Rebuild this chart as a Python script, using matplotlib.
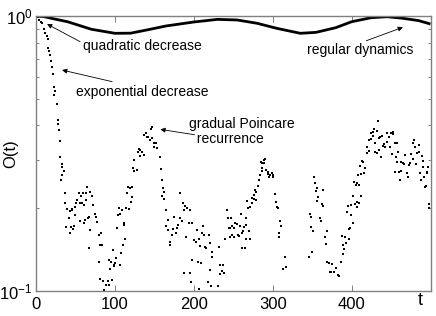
import numpy as np
import matplotlib
matplotlib.use("Agg")
import matplotlib.pyplot as plt
from matplotlib.ticker import NullFormatter

plt.rcParams['font.family'] = ['Liberation Sans', 'DejaVu Sans']
plt.rcParams['mathtext.fontset'] = 'custom'
plt.rcParams['mathtext.rm'] = 'Liberation Sans'
plt.rcParams['mathtext.it'] = 'Liberation Sans:italic'

# regular dynamics (dense curve near the top)
t_regular = [0, 10, 20, 40, 70, 100, 120, 140, 165, 200, 230, 255, 280,
             305, 335, 355, 380, 400, 425, 445, 465, 485, 500]
o_regular = [1.0, 0.995, 0.98, 0.953, 0.895, 0.865, 0.866, 0.889, 0.92,
             0.951, 0.972, 0.967, 0.941, 0.902, 0.865, 0.872, 0.907, 0.953,
             0.986, 0.994, 0.981, 0.962, 0.935]

# chaotic dynamics (scattered points)
t_chaotic = [
    0, 2, 4, 5.7, 7.4, 9.9, 12, 13.7, 15, 15.8, 16.7, 18, 18.4, 20, 21.3,
    22.5, 23.4, 24.3, 26, 27.6, 28.5, 29.4, 30.6, 31, 32.3, 32.7, 33.2, 33.5,
    35.2, 36.5,
    37.3, 39.5, 42, 38.6, 44.6, 43.7, 47, 48.7, 45.8, 42.8, 45, 49.4, 50,
    52.2, 51.3, 54.7, 56.3, 57.2, 55.5, 59.7, 58.9, 61.4, 63, 63.9, 64.8,
    65.6, 60.5, 62.3, 67.3, 69, 71.5, 72.4, 74.9, 76.6, 77.5, 68.1, 66.8,
    79.5, 82.5, 81.6, 84.2, 80, 80.8, 85, 88.4, 92.7, 90.9, 86.7, 92, 95.2,
    93.4, 98.5, 100.2, 101.9, 96, 97.7, 99.4, 107, 107.8, 110.4,
    102.8, 103.5, 105.3, 106.2, 109.5, 111.2, 112, 112.9, 113.7, 115.4,
    116.2, 118, 118.8, 120.5, 122.2, 123, 124.7, 123.8, 128, 121.8, 128.9,
    130.6, 132.3, 134.8, 136.5, 131.5, 137.3, 139, 140.8, 142.4, 144, 146.6,
    149.1, 150, 151.6, 153.4, 147.5, 145.8,
    156.7, 158.5, 159.2, 161, 160.1, 161.8, 162.7, 165.2, 166.8, 164.5,
    167.5, 169.4, 170.3, 172.8, 173.7, 175.3, 177, 178.9, 180.4, 182, 182.9,
    185.4, 187.1, 186.3, 188.9, 189.6, 191.4, 193.9, 195.6, 198.1, 197.2,
    199.7, 202.3, 204, 206.6, 208.2, 209.9, 211.6, 213.3, 214.2, 215.8,
    219.2, 220.9, 222.5, 223.4, 231.9, 237, 238.6, 232.7,
    188.1, 194.8, 196.4, 206, 218.5, 222, 230.5, 204.8, 209, 220, 233.8, 236,
    242, 242.8, 244.6, 246.2, 247, 248.7, 245.3, 248.3, 250.4, 252.5, 254.7,
    251.3, 255.4, 257.2, 258.9, 259.6, 260.5, 262.3, 263.9, 265.6, 261,
    264.4, 266, 270.6, 269.8, 266.5, 239.5,
    267.3, 268.1, 271.5, 273.2, 274, 276.6, 275.7, 278.2, 277.5, 279.1,
    280.8, 282.5, 283.3, 285, 286.7, 288.4, 290.1, 289.2, 287, 285.9, 290.9,
    291.8, 293.4, 296, 298.5, 300.3, 295.2, 301, 294.2,
    302.8, 304.4, 305.3, 306.1, 309.5, 311.1, 308.6, 307.8, 316.2, 312.9,
    317.1,
    352.5, 354.2, 356.7, 355.1, 357.4, 356, 363.5, 362.7, 364.3, 347.5,
    348.4, 360.1, 361, 349.1, 350.9, 368.6, 366.1, 367.7, 350, 346.6, 369.4,
    371.9, 374.1,
    372.8, 374.9, 380.4, 382.9, 384.6, 377.8, 386.3, 388.9, 390.5, 388,
    389.6, 391.4, 393, 393.9, 396.5, 398.1, 397.2, 399.7, 401.5, 395.6, 399,
    402.3, 404.9, 406.6, 409.9, 411.6, 407.4, 405.7, 403.2, 407.3, 409,
    408.1, 412.4, 415.8, 417.5, 413.3, 415, 410.6,
    419.2, 421.8, 420, 422.5, 424.3, 425.1, 426.8, 428.5, 431.9, 427.6,
    429.4, 430.1, 432.7, 433.5, 434.4, 436.1, 435.2, 437, 438.6, 440.3,
    441.1, 442.8, 444.6, 447.1, 445.3, 448.7, 450.4, 452.2, 452.9, 451.3,
    454.7, 458, 458.9, 456.3, 457.2, 455.4, 460.5, 462.3, 461.4, 463.1,
    464.8, 466.5, 468.1, 470.6, 471.5, 472.4, 474.1, 475.7, 477.5, 479.1,
    478.2, 480.8, 481.6, 483.3, 485.1, 485.8, 486.7, 487.6, 489.2, 490.9,
    490.1, 491.8, 493.4, 494.3, 495.2, 495.9, 496.8, 497.7, 498.5,
]
o_chaotic = [
    1.0, 0.99, 0.965, 0.948, 0.94, 0.897, 0.865, 0.848, 0.825, 0.763, 0.748,
    0.723, 0.688, 0.65, 0.615, 0.553, 0.516, 0.532, 0.479, 0.42, 0.405,
    0.386, 0.352, 0.306, 0.253, 0.283, 0.264, 0.29, 0.274, 0.228,
    0.209, 0.198, 0.184, 0.171, 0.171, 0.162, 0.168, 0.172, 0.197, 0.196,
    0.199, 0.202, 0.189, 0.214, 0.209, 0.227, 0.209, 0.221, 0.179, 0.227,
    0.209, 0.205, 0.214, 0.227, 0.238, 0.184, 0.177, 0.181, 0.186, 0.229,
    0.221, 0.205, 0.191, 0.186, 0.178, 0.167, 0.143,
    0.16, 0.162, 0.147, 0.147, 0.128, 0.111, 0.109, 0.105, 0.105, 0.109,
    0.101, 0.13, 0.128, 0.12, 0.124, 0.126, 0.132, 0.11, 0.141, 0.123,
    0.124, 0.137, 0.147,
    0.169, 0.189, 0.2, 0.19, 0.197, 0.174, 0.177, 0.155, 0.2, 0.227, 0.238,
    0.198, 0.236, 0.211, 0.238, 0.279, 0.273, 0.3, 0.275, 0.22, 0.321,
    0.327, 0.326, 0.319, 0.313, 0.31, 0.369, 0.375, 0.364, 0.362, 0.354,
    0.359, 0.346, 0.335, 0.344, 0.33, 0.395, 0.387,
    0.306, 0.277, 0.253, 0.236, 0.222, 0.216, 0.23, 0.197, 0.181, 0.172,
    0.167, 0.151, 0.147, 0.16, 0.168, 0.186, 0.163, 0.169, 0.174, 0.227,
    0.184, 0.179, 0.197, 0.209, 0.204, 0.157, 0.2, 0.177, 0.197, 0.177,
    0.13, 0.153, 0.151, 0.167, 0.155, 0.146, 0.163, 0.172, 0.16, 0.145,
    0.143, 0.16, 0.15, 0.139, 0.133, 0.145, 0.124, 0.116, 0.115,
    0.116, 0.116, 0.108, 0.102, 0.108, 0.104, 0.104, 0.128, 0.126, 0.119,
    0.124, 0.118,
    0.197, 0.184, 0.169, 0.169, 0.184, 0.16, 0.157, 0.172, 0.169, 0.176,
    0.175, 0.157, 0.16, 0.158, 0.172, 0.191, 0.162, 0.165, 0.171, 0.174,
    0.143, 0.143, 0.154, 0.155, 0.165, 0.184, 0.155,
    0.213, 0.2, 0.202, 0.209, 0.217, 0.216, 0.223, 0.214, 0.233, 0.23,
    0.241, 0.254, 0.264, 0.295, 0.291, 0.3, 0.303, 0.292, 0.279, 0.273,
    0.275, 0.275, 0.271, 0.264, 0.269, 0.264, 0.259, 0.259, 0.266,
    0.225, 0.211, 0.202, 0.2, 0.18, 0.172, 0.163, 0.157, 0.133, 0.12, 0.122,
    0.259, 0.247, 0.236, 0.231, 0.219, 0.213, 0.233, 0.207, 0.204, 0.19,
    0.186, 0.185, 0.179, 0.171, 0.165, 0.165, 0.157, 0.148, 0.139, 0.133,
    0.128, 0.126, 0.117,
    0.117, 0.125, 0.121, 0.114, 0.113, 0.117, 0.128, 0.136, 0.142, 0.158,
    0.147, 0.157, 0.15, 0.194, 0.168, 0.169, 0.155, 0.189, 0.177, 0.204,
    0.205, 0.222, 0.207, 0.21, 0.209, 0.221, 0.202, 0.243, 0.25, 0.248,
    0.243, 0.264, 0.266, 0.269, 0.279, 0.298, 0.295, 0.285,
    0.317, 0.323, 0.335, 0.354, 0.356, 0.374, 0.378, 0.387, 0.383, 0.366,
    0.346, 0.321, 0.318, 0.416, 0.359, 0.362, 0.326, 0.308, 0.366, 0.337,
    0.343, 0.335, 0.374, 0.362, 0.349, 0.333, 0.374, 0.379, 0.372, 0.315,
    0.344, 0.344, 0.321, 0.306, 0.295, 0.271, 0.271, 0.273, 0.253, 0.295,
    0.292, 0.29, 0.313, 0.269, 0.26, 0.288, 0.291, 0.315, 0.302, 0.354,
    0.346, 0.335, 0.29, 0.318, 0.34, 0.321, 0.268, 0.254, 0.31, 0.298,
    0.283, 0.26, 0.238, 0.24, 0.269, 0.271, 0.283, 0.207, 0.2,
]

x_ticks = [0, 100, 200, 300, 400]

fig = plt.figure(figsize=(4.36, 3.16), dpi=100)
ax = fig.add_axes([0.0826, 0.0791, 0.9048, 0.8703])

ax.plot(t_regular, o_regular, color='k', lw=2.0, solid_capstyle='butt')
ax.plot(t_chaotic, o_chaotic, ls='none', marker='s', ms=1.9, mew=0, color='k')

ax.set_yscale('log')
ax.set_xlim(0, 500)
ax.set_ylim(0.1, 1)
ax.set_xticks(x_ticks)
ax.set_xticklabels([str(v) for v in x_ticks])
ax.yaxis.set_minor_formatter(NullFormatter())

for s in ax.spines.values():
    s.set_color('0.5')
    s.set_linewidth(1.0)
ax.tick_params(which='both', direction='in', top=True, right=True,
               color='0.5', labelcolor='k', labelsize=12, width=0.7)
ax.tick_params(which='major', length=4, pad=4)
ax.tick_params(axis='y', which='major', pad=2.5)
ax.tick_params(which='minor', length=2.5)

ax.set_ylabel('O(t)', fontsize=12)
ax.yaxis.set_label_coords(-0.045, 0.5)
ax.set_xlabel('t', fontsize=13)
ax.xaxis.set_label_coords(0.975, -0.005)

arrow = dict(arrowstyle='-|>', color='k', lw=0.6, mutation_scale=7,
             shrinkA=0, shrinkB=0)
ax.text(59.7, 0.778, 'quadratic decrease', fontsize=10, va='center', ha='left')
ax.annotate('', xy=(14, 0.935), xytext=(56, 0.806), arrowprops=arrow)
ax.text(51.3, 0.53, 'exponential decrease', fontsize=10, va='center', ha='left')
ax.annotate('', xy=(33, 0.636), xytext=(96.5, 0.577), arrowprops=arrow)
ax.text(194, 0.38, 'gradual Poincare\n  recurrence', fontsize=10,
        va='center', ha='left', linespacing=1.05)
ax.annotate('', xy=(157.6, 0.387), xytext=(201, 0.37), arrowprops=arrow)
ax.text(344, 0.752, 'regular dynamics', fontsize=10, va='center', ha='left')
ax.annotate('', xy=(465, 0.91), xytext=(418.7, 0.813), arrowprops=arrow)

fig.savefig('out.png', dpi=100)
